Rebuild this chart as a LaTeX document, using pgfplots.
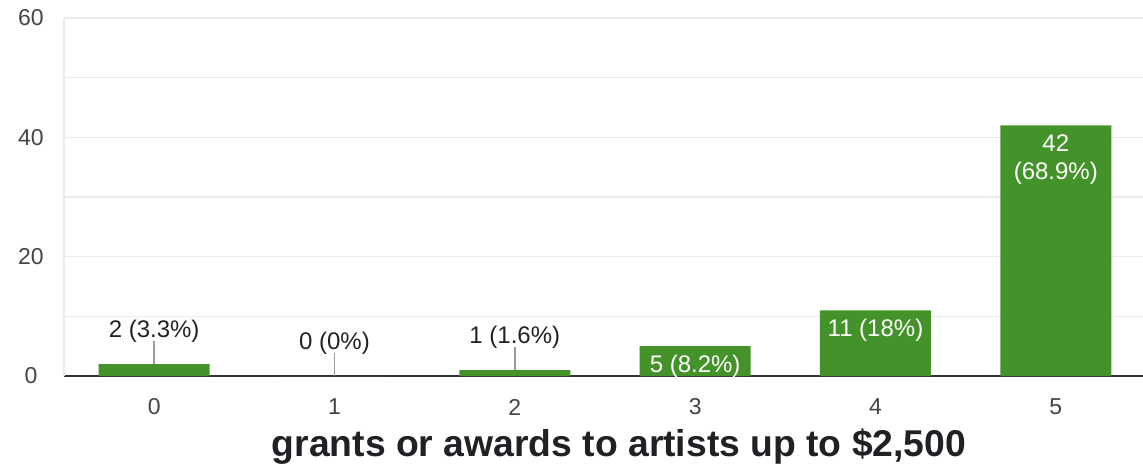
\documentclass[border=0pt]{standalone}
\usepackage{fontspec}
\setmainfont{Liberation Sans}
\usepackage{pgfplots}
\pgfplotsset{compat=1.18}
\definecolor{bargreen}{HTML}{43922A}
\definecolor{gridgray}{HTML}{EBEBEB}
\definecolor{basecol}{HTML}{333333}
\definecolor{leadgray}{HTML}{9A9A9A}
\definecolor{ticklab}{HTML}{444444}
\definecolor{labcol}{HTML}{222222}
\definecolor{titlecol}{HTML}{202124}
\begin{document}
\begin{tikzpicture}
\useasboundingbox (0,0) rectangle (1143pt,472pt);
\begin{axis}[
  at={(64pt,96pt)}, anchor=south west,
  scale only axis, width=1082pt, height=358pt,
  xmin=-0.5, xmax=5.5, ymin=0, ymax=60,
  xtick={0,1,2,3,4,5}, ytick={0,20,40,60}, minor ytick={10,30,50},
  ymajorgrids, yminorgrids,
  grid style={draw=gridgray, line width=1.2pt},
  major grid style={draw=gridgray, line width=1.2pt},
  minor grid style={draw=gridgray, line width=1.2pt},
  axis x line*=bottom, axis y line*=left,
  x axis line style={draw=basecol, line width=2pt, -},
  y axis line style={draw=gridgray, line width=1.2pt, -},
  major tick length=0pt, minor tick length=0pt,
  /pgf/number format/assume math mode=true,
  tick label style={font=\fontsize{23}{23}\selectfont, color=ticklab},
  xticklabel style={anchor=center, yshift=-31pt},
  yticklabel style={anchor=center, xshift=-33pt},
  xlabel={grants or awards to artists up to \$2,500},
  xlabel style={at={(axis description cs:0.5,0)}, anchor=center, yshift=-71pt, xshift=14pt,
    font=\bfseries\fontsize{37.3}{37.3}\selectfont, color=titlecol},
  clip=false,
]
\addplot[ybar, bar width=111pt, bar shift=0pt, fill=bargreen, draw=none,
  nodes near coords, point meta=explicit symbolic,
  nodes near coords style={anchor=base, yshift=27pt, inner sep=0pt,
    font=\fontsize{24}{28}\selectfont, color=labcol},
  error bars/.cd, y dir=plus, y fixed=3.9, error mark=none,
  error bar style={draw=leadgray, line width=1.6pt}]
coordinates {(0,2) [2 (3.3\%)] (1,0) [0 (0\%)] (2,1) [1 (1.6\%)]};
\addplot[ybar, bar width=111pt, bar shift=0pt, fill=bargreen, draw=none,
  nodes near coords, point meta=explicit symbolic,
  nodes near coords style={anchor=north, yshift=-9pt, inner sep=0pt, align=center,
    font=\fontsize{24}{28}\selectfont, color=white}]
coordinates {(3,5) [5 (8.2\%)] (4,11) [11 (18\%)] (5,42) [{42\\(68.9\%)}]};
\end{axis}
\end{tikzpicture}
\end{document}
